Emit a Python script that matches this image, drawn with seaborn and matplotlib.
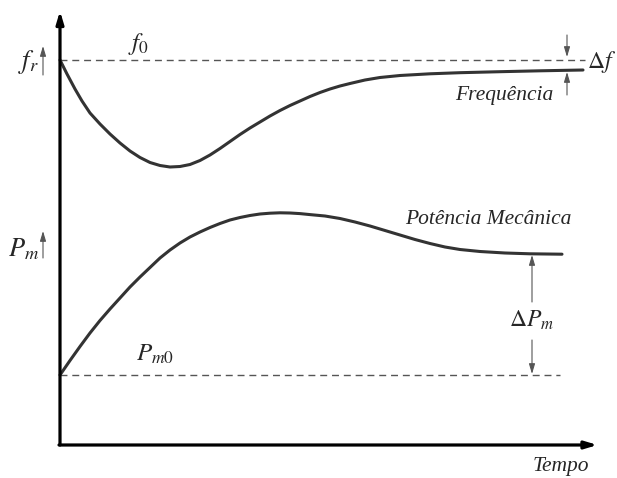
import numpy as np
import pandas as pd
import seaborn as sns
import matplotlib.pyplot as plt

# valores (tempo em unidades arbitrarias)
freq_t = [0, 0.14, 0.3, 0.44, 0.6, 0.8, 1.0, 1.2, 1.4, 1.6, 1.8, 2.0, 2.2, 2.4, 2.6,
          2.8, 3.0, 3.2, 3.4, 3.6, 3.8, 4.0, 4.2, 4.4, 4.6, 4.8, 5.0, 5.2, 5.4,
          5.6, 5.8, 6.1, 6.4, 6.8, 7.4, 8.0, 8.8, 9.6, 10.46]
freq_v = [38.5, 37.1, 35.6, 34.4, 33.2, 32.1, 31.1, 30.2, 29.4, 28.75, 28.25, 27.95, 27.8,
          27.85, 28.05, 28.45, 29.0, 29.65, 30.35, 31.05, 31.7, 32.3, 32.9, 33.45, 33.95,
          34.4, 34.85, 35.25, 35.6, 35.9, 36.15, 36.5, 36.75, 36.95, 37.12, 37.23,
          37.33, 37.42, 37.5]

pot_t = [0, 0.2, 0.4, 0.6, 0.8, 1.0, 1.2, 1.4, 1.6, 1.8, 2.0, 2.2, 2.4, 2.6, 2.8,
         3.0, 3.2, 3.4, 3.6, 3.8, 4.0, 4.2, 4.4, 4.6, 4.8, 5.0, 5.3, 5.6, 5.9,
         6.2, 6.5, 6.8, 7.1, 7.4, 7.7, 8.0, 8.4, 8.9, 9.4, 10.04]
pot_v = [7.0, 8.45, 9.85, 11.2, 12.45, 13.6, 14.7, 15.8, 16.8, 17.75, 18.7, 19.5, 20.2,
         20.8, 21.3, 21.75, 22.15, 22.5, 22.75, 22.95, 23.1, 23.18, 23.22, 23.2, 23.14,
         23.04, 22.9, 22.65, 22.3, 21.9, 21.45, 21.0, 20.55, 20.15, 19.8, 19.55, 19.35,
         19.2, 19.12, 19.08]

f0 = 38.5
pm0 = 7.0
f0_end = 10.5
pm0_end = 10.0

sns.set_theme(style="white")
plt.rcParams["font.family"] = ["Liberation Serif", "DejaVu Serif"]
plt.rcParams["mathtext.fontset"] = "stix"

fig = plt.figure(figsize=(6.17, 4.78), dpi=100)
ax = fig.add_axes([0, 0, 1, 1])
ax.set_xlim(-1.2, 11.14)
ax.set_ylim(-3.3, 44.5)
ax.axis("off")

curve = dict(color="#333333", linewidth=2.2)
dash = dict(color="#555555", linewidth=1.0, dashes=(5, 3.5))

df_f = pd.DataFrame({"t": freq_t, "v": freq_v})
df_p = pd.DataFrame({"t": pot_t, "v": pot_v})
sns.lineplot(data=df_f, x="t", y="v", ax=ax, **curve)
sns.lineplot(data=df_p, x="t", y="v", ax=ax, **curve)

ax.plot([0, f0_end], [f0, f0], **dash)
ax.plot([0, pm0_end], [pm0, pm0], **dash)

# eixos
axis_arrow = dict(arrowstyle="-|>,head_length=0.6,head_width=0.18", color="black", lw=2.3,
                  shrinkA=0, shrinkB=0)
ax.annotate("", xy=(0, 43.4), xytext=(0, 0), arrowprops=axis_arrow)
ax.annotate("", xy=(10.75, 0), xytext=(-0.02, 0), arrowprops=axis_arrow)

thin = dict(arrowstyle="-|>,head_length=0.5,head_width=0.15", color="#555555", lw=0.8,
            shrinkA=0, shrinkB=0)
ax.annotate("", xy=(-0.34, 39.9), xytext=(-0.34, 37.0), arrowprops=thin)
ax.annotate("", xy=(-0.34, 21.4), xytext=(-0.34, 18.7), arrowprops=thin)

# delta f
ax.annotate("", xy=(10.14, 38.8), xytext=(10.14, 41.0), arrowprops=thin)
ax.annotate("", xy=(10.14, 37.3), xytext=(10.14, 35.0), arrowprops=thin)
# delta Pm
ax.annotate("", xy=(9.44, 19.0), xytext=(9.44, 14.3), arrowprops=thin)
ax.annotate("", xy=(9.44, 7.1), xytext=(9.44, 10.5), arrowprops=thin)

ax.text(-0.64, 38.3, r"$f_r$", fontsize=19, ha="center", va="center")
ax.text(1.56, 40.1, r"$f_0$", fontsize=18, ha="center", va="center")
ax.text(-0.72, 19.6, r"$P_m$", fontsize=19, ha="center", va="center")
ax.text(1.9, 9.1, r"$P_{m0}$", fontsize=18, ha="center", va="center")
ax.text(10.84, 38.3, r"$\Delta f$", fontsize=17, ha="center", va="center")
ax.text(9.44, 12.5, r"$\Delta P_m$", fontsize=17, ha="center", va="center")

ax.text(8.88, 34.9, "Frequência", fontsize=15.5, style="italic", ha="center", va="center")
ax.text(8.56, 22.5, "Potência Mecânica", fontsize=15.5, style="italic", ha="center", va="center")
ax.text(10.02, -2.1, "Tempo", fontsize=15.5, style="italic", ha="center", va="center")

fig.savefig("out.png", dpi=100, facecolor="white")
